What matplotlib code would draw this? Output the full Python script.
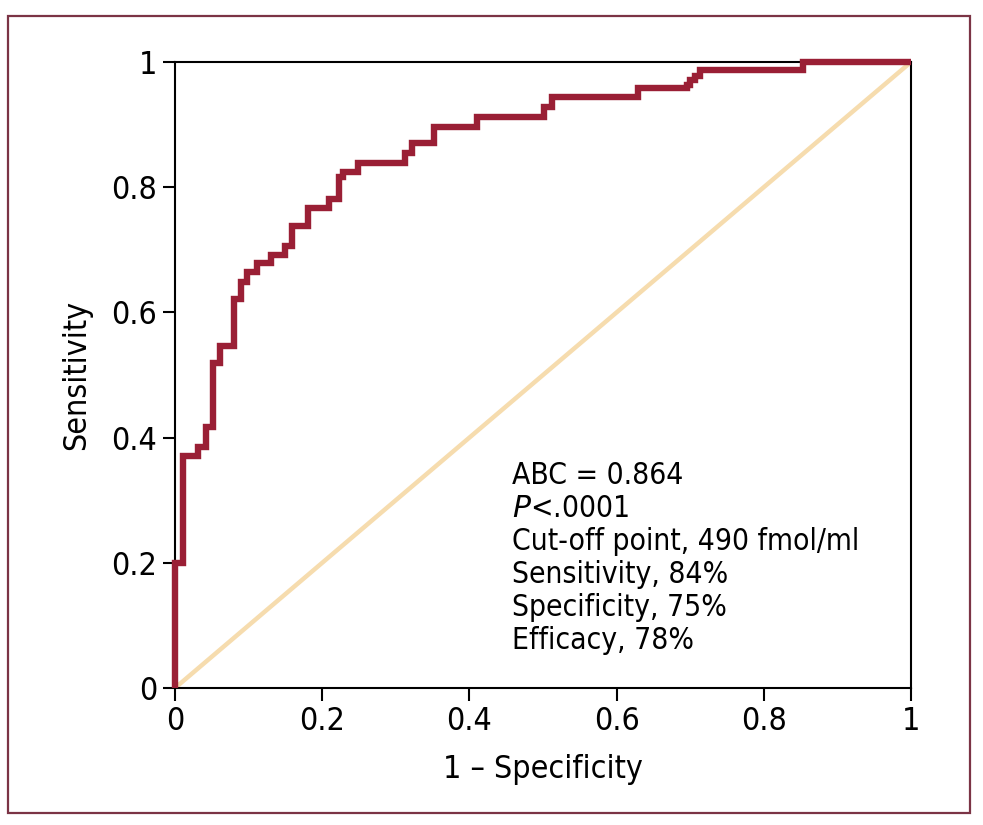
import matplotlib
matplotlib.use("Agg")
import matplotlib.pyplot as plt
from matplotlib import font_manager
from matplotlib.patches import Rectangle

# ROC curve vertices (1 - specificity, sensitivity)
FPR = [0.0, 0.0, 0.011, 0.011, 0.031, 0.031, 0.042, 0.042, 0.052, 0.052,
       0.061, 0.061, 0.080, 0.080, 0.090, 0.090, 0.098, 0.098, 0.111, 0.111,
       0.131, 0.131, 0.149, 0.149, 0.159, 0.159, 0.181, 0.181, 0.209, 0.209,
       0.223, 0.223, 0.228, 0.228, 0.249, 0.249, 0.312, 0.312, 0.322, 0.322,
       0.352, 0.352, 0.410, 0.410, 0.501, 0.501, 0.512, 0.512, 0.629, 0.629,
       0.696, 0.696, 0.700, 0.700, 0.707, 0.707, 0.713, 0.713, 0.853, 0.853,
       1.0]
TPR = [0.0, 0.200, 0.200, 0.370, 0.370, 0.385, 0.385, 0.417, 0.417, 0.519,
       0.519, 0.546, 0.546, 0.621, 0.621, 0.648, 0.648, 0.665, 0.665, 0.679,
       0.679, 0.692, 0.692, 0.706, 0.706, 0.738, 0.738, 0.767, 0.767, 0.781,
       0.781, 0.816, 0.816, 0.824, 0.824, 0.838, 0.838, 0.854, 0.854, 0.870,
       0.870, 0.896, 0.896, 0.912, 0.912, 0.928, 0.928, 0.944, 0.944, 0.958,
       0.958, 0.964, 0.964, 0.971, 0.971, 0.978, 0.978, 0.987, 0.987, 1.0,
       1.0]

TICKS = [0, 0.2, 0.4, 0.6, 0.8, 1]
TICK_LABELS = ["0", "0.2", "0.4", "0.6", "0.8", "1"]

STATS = ["ABC = 0.864",
         "$P$<.0001",
         "Cut-off point, 490 fmol/ml",
         "Sensitivity, 84%",
         "Specificity, 75%",
         "Efficacy, 78%"]

# narrow font if we have it
names = set(f.name for f in font_manager.fontManager.ttflist)
if "Liberation Sans Narrow" in names:
    FONT = "Liberation Sans Narrow"
    stretch = "normal"
else:
    FONT = "DejaVu Sans"
    stretch = "condensed"
plt.rcParams["font.family"] = [FONT, "DejaVu Sans"]
plt.rcParams["mathtext.fontset"] = "custom"
plt.rcParams["mathtext.it"] = FONT + ":italic"
plt.rcParams["mathtext.rm"] = FONT

CURVE = "#9a1f35"
DIAG = "#f6dcae"

fig = plt.figure(figsize=(9.83, 8.25), dpi=100)

# outer frame
fig.patches.append(Rectangle((8 / 983, 12 / 825), 962 / 983, 797 / 825,
                             transform=fig.transFigure, fill=False,
                             edgecolor="#7b3445", linewidth=1.6))

ax = fig.add_axes([175 / 983, 137 / 825, 736 / 983, 626 / 825])

ax.plot([0, 1], [0, 1], color=DIAG, linewidth=3.2, solid_capstyle="butt", zorder=2)
ax.plot(FPR, TPR, color=CURVE, linewidth=4.6, solid_joinstyle="miter",
        solid_capstyle="butt", zorder=5, clip_on=False)

ax.set_xlim(0, 1)
ax.set_ylim(0, 1)
ax.set_xticks(TICKS)
ax.set_yticks(TICKS)
ax.set_xticklabels(TICK_LABELS)
ax.set_yticklabels(TICK_LABELS)
ax.tick_params(direction="out", length=9, width=1.5, labelsize=23, pad=4)
for lab in ax.get_xticklabels() + ax.get_yticklabels():
    lab.set_fontstretch(stretch)
for sp in ax.spines.values():
    sp.set_linewidth(1.5)
    sp.set_zorder(4)

ax.set_xlabel("1 \u2013 Specificity", fontsize=23, labelpad=12, fontstretch=stretch)
ax.set_ylabel("Sensitivity", fontsize=23, labelpad=14, fontstretch=stretch)

for i, line in enumerate(STATS):
    ax.text(0.458, 0.340 - i * 0.0527, line, transform=ax.transAxes,
            fontsize=21.5, va="center", ha="left", fontstretch=stretch)

fig.savefig("out.png", dpi=100)
